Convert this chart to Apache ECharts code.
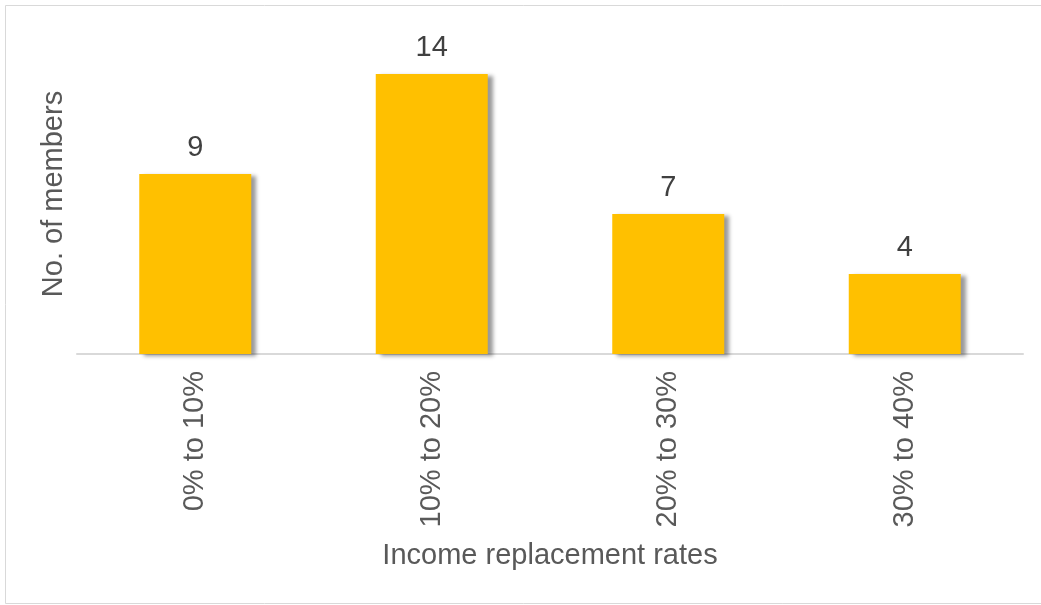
<!DOCTYPE html>
<html>
<head>
<meta charset="utf-8">
<script src="https://cdn.jsdelivr.net/npm/echarts@6/dist/echarts.min.js"></script>
<style>
    html, body { margin: 0; padding: 0; background: #fff; }
    #main { width: 1041px; height: 605px; }
</style>
</head>
<body>
<div id="main"></div>
<script>
    var categories = ['0% to 10%', '10% to 20%', '20% to 30%', '30% to 40%'];
    var members = [9, 14, 7, 4];

    var myChart = echarts.init(document.getElementById('main'));
    var option = {
        backgroundColor: '#ffffff',
        animation: false,
        textStyle: { fontFamily: 'Liberation Sans, Arial, sans-serif' },
        graphic: [
            {
                type: 'rect',
                shape: { x: 5.5, y: 5.5, width: 1040, height: 598 },
                style: { fill: 'none', stroke: '#d9d9d9', lineWidth: 1 },
                silent: true
            },
            {
                type: 'text',
                x: 550, y: 556,
                style: {
                    text: 'Income replacement rates', fontSize: 29, fill: '#595959',
                    align: 'center', verticalAlign: 'middle',
                    fontFamily: 'Liberation Sans, Arial, sans-serif'
                }
            }
        ],
        grid: { left: 77, right: 18, top: 34, bottom: 605 - 354 },
        xAxis: {
            type: 'category',
            data: categories,
            axisLine: { lineStyle: { color: '#d9d9d9', width: 2 } },
            axisTick: { show: false },
            axisLabel: { rotate: 90, fontSize: 29, color: '#595959', margin: 17 }
        },
        yAxis: {
            type: 'value',
            min: 0, max: 16,
            name: 'No. of members',
            nameLocation: 'middle',
            nameGap: 9,
            nameTextStyle: { fontSize: 29, color: '#595959' },
            nameRotate: 90,
            axisLine: { show: false },
            axisTick: { show: false },
            axisLabel: { show: false },
            splitLine: { show: false }
        },
        series: [{
            type: 'bar',
            data: members,
            barWidth: 112,
            itemStyle: {
                color: '#ffc000',
                shadowColor: 'rgba(0,0,0,0.4)',
                shadowBlur: 4,
                shadowOffsetX: 5,
                shadowOffsetY: 2
            },
            label: { show: true, position: 'top', distance: 12, fontSize: 29, color: '#404040' }
        }]
    };
    myChart.setOption(option);
</script>
</body>
</html>
